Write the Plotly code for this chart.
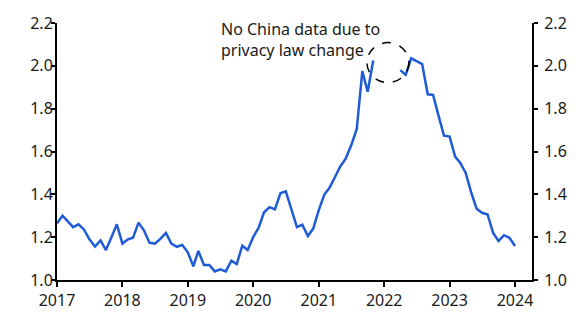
import plotly.graph_objects as go
import pandas as pd

dates = pd.date_range("2017-01-01", "2024-01-01", freq="MS")
values = [
    # 2017
    1.265, 1.30, 1.275, 1.247, 1.26, 1.235, 1.19, 1.156, 1.185, 1.14, 1.20, 1.26,
    # 2018
    1.17, 1.19, 1.197, 1.268, 1.232, 1.174, 1.17, 1.192, 1.22, 1.17, 1.155, 1.164,
    # 2019
    1.129, 1.064, 1.136, 1.07, 1.07, 1.04, 1.05, 1.04, 1.09, 1.074, 1.16, 1.14,
    # 2020
    1.20, 1.245, 1.315, 1.34, 1.33, 1.405, 1.414, 1.326, 1.247, 1.258, 1.205, 1.24,
    # 2021
    1.326, 1.399, 1.429, 1.48, 1.53, 1.568, 1.629, 1.705, 1.975, 1.879, 2.025, None,
    # 2022
    None, None, None, 1.98, 1.958, 2.035, 2.02, 2.008, 1.867, 1.864, 1.765, 1.674,
    # 2023
    1.67, 1.576, 1.548, 1.50, 1.41, 1.333, 1.314, 1.306, 1.22, 1.182, 1.209, 1.197,
    # 2024
    1.159,
]
year_ticks = ["2017-01-01", "2018-01-01", "2019-01-01", "2020-01-01",
              "2021-01-01", "2022-01-01", "2023-01-01", "2024-01-01"]
year_labels = ["2017", "2018", "2019", "2020", "2021", "2022", "2023", "2024"]
y_ticks = [1.0, 1.2, 1.4, 1.6, 1.8, 2.0, 2.2]
y_labels = ["1.0", "1.2", "1.4", "1.6", "1.8", "2.0", "2.2"]
note = "No China data due to<br>privacy law change"

fig = go.Figure()
fig.add_trace(go.Scatter(x=dates, y=values, mode="lines",
                         line=dict(color="#1f5bd6", width=2.5),
                         connectgaps=False, showlegend=False))
fig.add_trace(go.Scatter(x=dates, y=values, mode="lines", yaxis="y2",
                         line=dict(color="rgba(0,0,0,0)", width=0),
                         hoverinfo="skip", showlegend=False))

font = dict(family="Noto Sans", size=16, color="#1a1a1a")
axis_common = dict(range=[1.0, 2.2], tickvals=y_ticks, ticktext=y_labels,
                   showgrid=False, zeroline=False, showline=True,
                   linecolor="black", linewidth=2, ticks="outside",
                   ticklen=4, tickwidth=2, tickcolor="black", tickfont=font)

fig.update_layout(
    width=585, height=323,
    margin=dict(l=57, r=53, t=21, b=38),
    plot_bgcolor="white", paper_bgcolor="white",
    xaxis=dict(range=["2017-01-01", "2024-04-05"], tickvals=year_ticks,
               ticktext=year_labels, showgrid=False, zeroline=False,
               showline=True, linecolor="black", linewidth=2,
               ticks="outside", ticklen=5, tickwidth=2, tickcolor="black",
               tickfont=font),
    yaxis=dict(side="left", ticklabelstandoff=-5, **axis_common),
    yaxis2=dict(side="right", overlaying="y", ticklabelstandoff=3, **axis_common),
    shapes=[dict(type="circle", xref="x", yref="y",
                 xsizemode="pixel", ysizemode="pixel",
                 xanchor="2022-01-22", yanchor=2.015,
                 x0=-21, x1=21, y0=-20, y1=20,
                 line=dict(color="black", width=1.5, dash="dash"))],
    annotations=[dict(text=note, xref="paper", yref="paper",
                      x=(220 - 57) / (585 - 57 - 53), y=1.025,
                      xanchor="left", yanchor="top", align="left",
                      borderpad=0, showarrow=False,
                      font=dict(family="Noto Sans", size=16, color="#1a1a1a"))],
)

fig.write_html("out.html")
